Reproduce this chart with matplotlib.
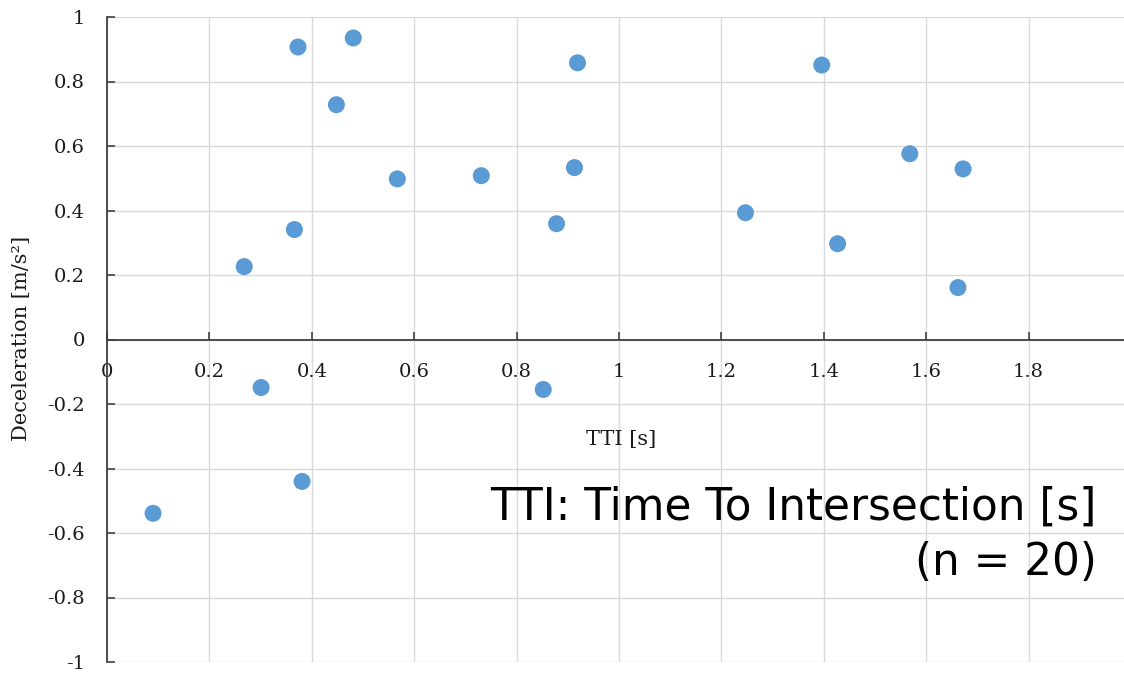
import matplotlib
matplotlib.use("Agg")
import matplotlib.pyplot as plt
from matplotlib.ticker import FuncFormatter

tti = [0.09, 0.268, 0.301, 0.366, 0.373, 0.381, 0.448, 0.481, 0.567, 0.731,
       0.852, 0.878, 0.913, 0.919, 1.247, 1.396, 1.427, 1.568, 1.662, 1.672]
decel = [-0.539, 0.226, -0.149, 0.341, 0.907, -0.44, 0.728, 0.935, 0.498, 0.508,
         -0.155, 0.359, 0.533, 0.858, 0.393, 0.851, 0.297, 0.576, 0.161, 0.529]

x_ticks = [0, 0.2, 0.4, 0.6, 0.8, 1, 1.2, 1.4, 1.6, 1.8]
y_ticks = [-1, -0.8, -0.6, -0.4, -0.2, 0, 0.2, 0.4, 0.6, 0.8, 1]

W, H = 1124, 676
fig = plt.figure(figsize=(W / 100, H / 100), dpi=100)
ax = fig.add_axes([107 / W, (H - 662) / H, (1131 - 107) / W, (662 - 17) / H])

ax.scatter(tti, decel, s=150, color="#5B9BD5", edgecolors="none", zorder=3)

ax.set_xlim(0, 2)
ax.set_ylim(-1, 1)
ax.set_xticks(x_ticks)
ax.set_yticks(y_ticks)
# excel style: plain hyphen for negatives
fmt = FuncFormatter(lambda v, p: ("%g" % v).replace("\u2212", "-"))
ax.xaxis.set_major_formatter(fmt)
ax.yaxis.set_major_formatter(fmt)

ax.grid(True, color="#D9D9D9", linewidth=1.0)
ax.set_axisbelow(True)

for s in ["top", "right"]:
    ax.spines[s].set_visible(False)
ax.spines["bottom"].set_position(("data", 0))
for s in ["left", "bottom"]:
    ax.spines[s].set_color("#404040")
    ax.spines[s].set_linewidth(1.3)

ax.tick_params(axis="both", direction="in", length=6, width=1.2, color="#404040",
               labelsize=14, labelfontfamily="DejaVu Serif", labelcolor="#1a1a1a")
ax.tick_params(axis="x", pad=17)
ax.tick_params(axis="y", pad=16)

fig.text(22 / W, 1 - 338 / H, "Deceleration [m/s²]", rotation=90, ha="center", va="center",
         fontsize=15, family="DejaVu Serif", color="#1a1a1a")
fig.text(621 / W, 1 - 440 / H, "TTI [s]", ha="center", va="center",
         fontsize=15, family="DejaVu Serif", color="#1a1a1a")

fig.text(1097 / W, 1 - 535 / H, "TTI: Time To Intersection [s]\n(n = 20)",
         ha="right", va="center", multialignment="right",
         fontsize=31.5, family="DejaVu Sans", color="black", linespacing=1.35)

fig.savefig("out.png", dpi=100)
